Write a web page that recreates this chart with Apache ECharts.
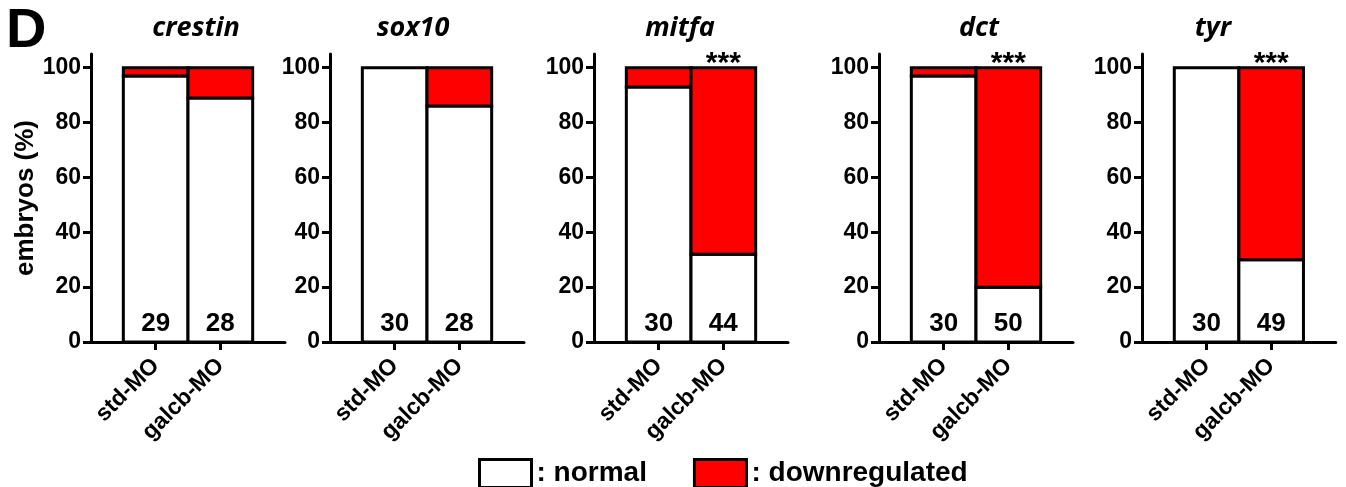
<!DOCTYPE html>
<html>
<head>
<meta charset="utf-8">
<script src="https://cdn.jsdelivr.net/npm/echarts@6/dist/echarts.min.js"></script>
<style>
html, body { margin: 0; padding: 0; background: #fff; }
#chart { width: 1346px; height: 487px; }
</style>
</head>
<body>
<div id="chart"></div>
<script>
const genes = ["crestin", "sox10", "mitfa", "dct", "tyr"];
const groups = ["std-MO", "galcb-MO"];
const normalPct = [[97, 89], [100, 86], [93, 32], [97, 20], [100, 30]];
const downPct = [[3, 11], [0, 14], [7, 68], [3, 80], [0, 70]];
const embryoCounts = [[29, 28], [30, 28], [30, 44], [30, 50], [30, 49]];
const significance = [["", ""], ["", ""], ["", "***"], ["", "***"], ["", "***"]];
const yTicks = [0, 20, 40, 60, 80, 100];

// where each panel sits
const panelLeft = [91, 330, 594, 879, 1142];
const titleCenter = [191, 408, 675, 974, 1208];
const panelWidth = 194;

const font = "'Liberation Sans', Arial, sans-serif";

const chart = echarts.init(document.getElementById("chart"));

// one stacked segment, outline shared with its neighbours like the original
function segment(api, base, value, fill) {
  const x = api.value(0);
  const bottom = api.coord([x, base]);
  const top = api.coord([x, base + value]);
  const w = api.size([1, 0])[0];
  return {
    type: "rect",
    shape: { x: bottom[0] - w / 2, y: top[1], width: w, height: bottom[1] - top[1] },
    style: { fill: fill, stroke: "#000", lineWidth: 3 }
  };
}

const grids = [];
const xAxes = [];
const yAxes = [];
const series = [];
const titles = [];

genes.forEach(function (gene, g) {
  grids.push({ left: panelLeft[g], top: 54, width: panelWidth, height: 288 });

  xAxes.push({
    gridIndex: g,
    type: "category",
    boundaryGap: false,
    // empty slots on both ends give the padding around the bars
    data: [" ", groups[0], groups[1], "  "],
    axisLine: { lineStyle: { color: "#000", width: 3 } },
    axisTick: {
      length: 8,
      lineStyle: { color: "#000", width: 3 },
      interval: function (index) { return index === 1 || index === 2; }
    },
    axisLabel: {
      rotate: 45,
      margin: 20,
      color: "#000",
      fontFamily: font,
      fontWeight: "bold",
      fontSize: 23,
      interval: 0
    }
  });

  yAxes.push({
    gridIndex: g,
    type: "value",
    min: 0,
    max: 105,
    interval: 20,
    name: g === 0 ? "embryos (%)" : "",
    nameLocation: "middle",
    nameGap: 50,
    nameTextStyle: { color: "#000", fontFamily: font, fontWeight: "bold", fontSize: 26 },
    splitLine: { show: false },
    axisLine: { show: true, lineStyle: { color: "#000", width: 3 } },
    axisTick: { show: true, length: 8, customValues: yTicks, lineStyle: { color: "#000", width: 3 } },
    axisLabel: {
      customValues: yTicks,
      margin: 10,
      color: "#000",
      fontFamily: font,
      fontWeight: "bold",
      fontSize: 23
    }
  });

  series.push({
    name: "normal",
    type: "custom",
    xAxisIndex: g,
    yAxisIndex: g,
    itemStyle: { color: "#fff", borderColor: "#000", borderWidth: 3 },
    encode: { x: 0, y: 1 },
    data: [[1, normalPct[g][0]], [2, normalPct[g][1]]],
    renderItem: function (params, api) {
      const i = params.dataIndex;
      const base = api.coord([api.value(0), 0]);
      return {
        type: "group",
        children: [
          segment(api, 0, api.value(1), "#fff"),
          {
            type: "text",
            x: base[0],
            y: base[1] - 5,
            style: {
              text: String(embryoCounts[g][i]),
              fill: "#000",
              font: "bold 26px " + font,
              align: "center",
              verticalAlign: "bottom"
            }
          }
        ]
      };
    }
  });

  series.push({
    name: "downregulated",
    type: "custom",
    xAxisIndex: g,
    yAxisIndex: g,
    z: 3,
    itemStyle: { color: "#ff0000", borderColor: "#000", borderWidth: 3 },
    encode: { x: 0, y: 1 },
    data: [[1, downPct[g][0], normalPct[g][0]], [2, downPct[g][1], normalPct[g][1]]],
    renderItem: function (params, api) {
      const i = params.dataIndex;
      const children = [];
      if (api.value(1) > 0) {
        children.push(segment(api, api.value(2), api.value(1), "#ff0000"));
      }
      const top = api.coord([api.value(0), api.value(2) + api.value(1)]);
      children.push({
        type: "text",
        x: top[0],
        y: top[1] + 11,
        style: {
          text: significance[g][i],
          fill: "#000",
          font: "bold 30px " + font,
          align: "center",
          verticalAlign: "bottom"
        }
      });
      return { type: "group", children: children };
    }
  });

  titles.push({
    text: gene,
    left: titleCenter[g],
    top: 10,
    textAlign: "center",
    textStyle: {
      color: "#000",
      fontFamily: "'Open Sans', 'Noto Sans', sans-serif",
      fontStyle: "italic",
      fontWeight: "bold",
      fontSize: 27
    }
  });
});

chart.setOption({
  animation: false,
  backgroundColor: "#fff",
  title: titles,
  grid: grids,
  xAxis: xAxes,
  yAxis: yAxes,
  series: series,
  legend: {
    data: ["normal", "downregulated"],
    left: 473,
    top: 453,
    icon: "rect",
    itemWidth: 52,
    itemHeight: 28,
    itemGap: 46,
    selectedMode: false,
    formatter: ": {name}",
    itemStyle: { color: "inherit", borderColor: "#000", borderWidth: 3 },
    textStyle: { color: "#000", fontFamily: font, fontWeight: "bold", fontSize: 28 }
  },
  graphic: [
    {
      type: "text",
      left: 6,
      top: 4,
      style: { text: "D", fill: "#000", font: "bold 56px " + font }
    }
  ]
});
</script>
</body>
</html>
